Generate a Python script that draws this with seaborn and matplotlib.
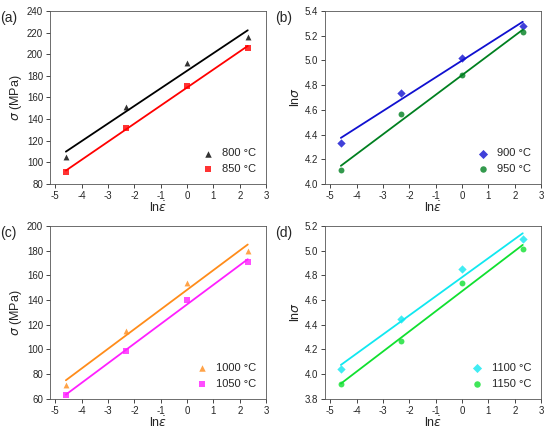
import matplotlib
matplotlib.use("Agg")
import matplotlib.pyplot as plt
import seaborn as sns
import numpy as np

sns.set_style("ticks")
plt.rcParams['font.family'] = ['Arial', 'Liberation Sans', 'DejaVu Sans']
plt.rcParams['axes.unicode_minus'] = False

x = [-4.6, -2.3, 0.0, 2.3]
s800 = [105, 151, 192, 216]
s850 = [91, 132, 171, 206]
l900 = [4.33, 4.74, 5.02, 5.28]
l950 = [4.11, 4.57, 4.88, 5.23]
s1000 = [71, 115, 154, 180]
s1050 = [63, 99, 140, 171]
l1100 = [4.04, 4.45, 4.85, 5.09]
l1150 = [3.92, 4.27, 4.74, 5.01]

panels = [
    ("(a)", [0.091, 0.578, 0.393, 0.397], [(s800, "800 °C", "black", "^"), (s850, "850 °C", "red", "s")],
     (80, 240), np.arange(80, 241, 20), r"$\sigma$ (MPa)", "{:.0f}"),
    ("(b)", [0.591, 0.578, 0.393, 0.397], [(l900, "900 °C", "#1010d0", "D"), (l950, "950 °C", "#008020", "o")],
     (4.0, 5.4), np.arange(4.0, 5.41, 0.2), r"ln$\sigma$", "{:.1f}"),
    ("(c)", [0.091, 0.085, 0.393, 0.397], [(s1000, "1000 °C", "#ff8c1a", "^"), (s1050, "1050 °C", "#ff20ff", "s")],
     (60, 200), np.arange(60, 201, 20), r"$\sigma$ (MPa)", "{:.0f}"),
    ("(d)", [0.591, 0.085, 0.393, 0.397], [(l1100, "1100 °C", "#10e8f0", "D"), (l1150, "1150 °C", "#10e030", "o")],
     (3.8, 5.2), np.arange(3.8, 5.21, 0.2), r"ln$\sigma$", "{:.1f}"),
]

fig = plt.figure(figsize=(5.5, 4.36), dpi=100)
for lab, rect, series, ylim, yt, ylab, fmt in panels:
    ax = fig.add_axes(rect)
    for ys, name, c, m in series:
        sns.regplot(x=x, y=ys, ax=ax, ci=None, color=c, marker=m, truncate=True,
                    scatter_kws={"s": 18, "linewidths": 0}, line_kws={"lw": 1.3}, label=name)
    ax.set_xlim(-5.2, 3)
    ax.set_ylim(*ylim)
    ax.set_xticks(range(-5, 4))
    ax.set_yticks(yt)
    ax.set_yticklabels([fmt.format(v) for v in yt])
    ax.tick_params(labelsize=7, length=3, width=0.6, pad=2)
    for sp in ax.spines.values():
        sp.set_visible(True); sp.set_linewidth(0.6); sp.set_color("#555555")
    ax.set_xlabel(r"ln$\dot{\varepsilon}$", fontsize=9, labelpad=0)
    ax.set_ylabel(ylab, fontsize=9, labelpad=2)
    h, l = ax.get_legend_handles_labels()
    leg = ax.legend([hh for hh in h if hasattr(hh, "get_offsets")],
                    [ll for hh, ll in zip(h, l) if hasattr(hh, "get_offsets")],
                    loc="lower right", frameon=False, fontsize=8, handletextpad=0.3, markerscale=1.1)
    fig.text(rect[0] - 0.09, rect[1] + rect[3] - 0.025, lab, fontsize=10)

fig.savefig("out.png", dpi=100)
